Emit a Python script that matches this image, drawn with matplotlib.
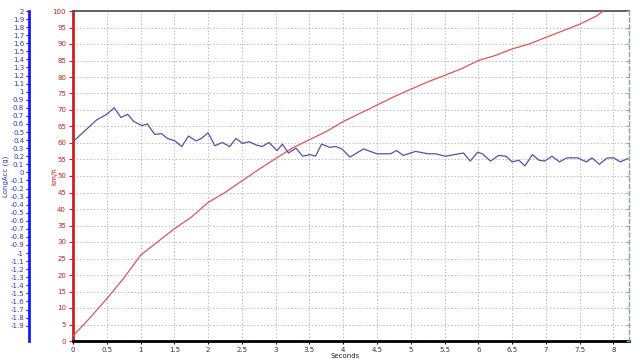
import numpy as np
import matplotlib.pyplot as plt
from matplotlib.ticker import MultipleLocator, FormatStrFormatter

# speed (km/h) vs time
speed_t = [0, 0.25, 0.5, 0.75, 1.0, 1.25, 1.5, 1.75, 2.0, 2.25, 2.5, 2.75, 3.0,
           3.25, 3.5, 3.75, 4.0, 4.25, 4.5, 4.75, 5.0, 5.25, 5.5, 5.75, 6.0,
           6.25, 6.5, 6.75, 7.0, 7.25, 7.5, 7.75, 7.85, 8.0, 8.22]
speed_v = [1.5, 7, 12.8, 19, 26, 30, 34, 37.5, 42, 45, 48.5, 52, 55.3,
           58.5, 61, 63.5, 66.5, 69, 71.5, 74, 76.3, 78.5, 80.5, 82.5, 85,
           86.5, 88.5, 90, 92, 94, 96, 98.5, 100, 101.5, 103]

# longitudinal acceleration (g) vs time
acc_t = [0, 0.35, 0.5, 0.61, 0.71, 0.81, 0.9, 1.02, 1.1, 1.21, 1.31, 1.4,
         1.51, 1.61, 1.71, 1.82, 1.9, 2.0, 2.1, 2.21, 2.32, 2.41, 2.51, 2.61,
         2.71, 2.8, 2.9, 3.02, 3.1, 3.19, 3.3, 3.4, 3.51, 3.59, 3.68, 3.8,
         3.89, 3.98, 4.1, 4.3, 4.5, 4.7, 4.79, 4.89, 5.07, 5.26, 5.37, 5.51,
         5.78, 5.88, 5.99, 6.06, 6.18, 6.3, 6.41, 6.5, 6.6, 6.69, 6.8, 6.9,
         6.98, 7.09, 7.2, 7.31, 7.47, 7.6, 7.68, 7.79, 7.91, 8.0, 8.1, 8.21]
acc_g = [0.38, 0.65, 0.72, 0.80, 0.68, 0.72, 0.63, 0.58, 0.60, 0.47, 0.48, 0.42,
         0.39, 0.32, 0.45, 0.39, 0.42, 0.49, 0.33, 0.37, 0.32, 0.42, 0.36, 0.38,
         0.34, 0.32, 0.37, 0.27, 0.35, 0.24, 0.30, 0.20, 0.22, 0.20, 0.35, 0.31,
         0.32, 0.29, 0.19, 0.29, 0.23, 0.23, 0.27, 0.21, 0.26, 0.23, 0.23, 0.20,
         0.24, 0.14, 0.25, 0.23, 0.14, 0.21, 0.20, 0.13, 0.15, 0.08, 0.22, 0.15,
         0.14, 0.20, 0.13, 0.18, 0.18, 0.13, 0.18, 0.10, 0.18, 0.18, 0.13, 0.17]

red = '#cc2020'
blue = '#1a1aff'

fig = plt.figure(figsize=(6.4, 3.63), dpi=100)
ax = fig.add_axes([73/640, 22/363, 556/640, 330/363])

ax.plot(speed_t, speed_v, color='#d85858', lw=0.9, zorder=3)
ax.set_xlim(0, 8.23)
ax.set_ylim(0, 100)
ax.yaxis.set_major_locator(MultipleLocator(5))
ax.xaxis.set_major_locator(MultipleLocator(0.5))
ax.xaxis.set_minor_locator(MultipleLocator(0.1))
ax.xaxis.set_major_formatter(FormatStrFormatter('%g'))
ax.grid(True, color='#bcbcbc', ls=(0, (1.5, 2)), lw=0.7)
ax.set_axisbelow(True)
ax.tick_params(axis='y', colors=red, labelsize=5, length=3, width=0.8, pad=2)
ax.tick_params(axis='x', colors='black', labelcolor='#333333', labelsize=5,
               length=2.5, width=0.8, pad=2)
ax.tick_params(axis='x', which='minor', length=1, width=0.5)
ax.spines['left'].set_color(red)
ax.spines['left'].set_linewidth(2)
ax.spines['bottom'].set_color('black')
ax.spines['bottom'].set_linewidth(2)
ax.spines['top'].set_color('#555555')
ax.spines['top'].set_linewidth(1.3)
ax.spines['right'].set_visible(False)
ax.set_ylabel('km/h', color=red, fontsize=5)
ax.yaxis.set_label_coords(-16/556, 0.5)
fig.text(345/640, 1 - 356/363, 'Seconds', fontsize=5, color='#222222',
         ha='center', va='center')

# blue LongAcc axis, offset to the left
ax2 = ax.twinx()
ax2.plot(acc_t, acc_g, color='#5252a8', lw=0.9, zorder=4)
ax2.set_ylim(-2.09, 2.0)
ax2.yaxis.set_ticks_position('left')
ax2.yaxis.set_label_position('left')
ax2.spines['left'].set_position(('axes', -44/556))
ax2.spines['left'].set_visible(True)
ax2.spines['left'].set_color(blue)
ax2.spines['left'].set_linewidth(2)
for s in ['right', 'top', 'bottom']:
    ax2.spines[s].set_visible(False)
ax2.set_yticks(np.round(np.arange(-1.9, 2.01, 0.1), 1))
ax2.yaxis.set_major_formatter(FormatStrFormatter('%g'))
ax2.tick_params(axis='y', colors=blue, labelcolor='#3333cc', labelsize=5,
                length=2.5, width=0.8, pad=1)
ax2.set_ylabel('LongAcc (g)', color='#3333cc', fontsize=5)
ax2.yaxis.set_label_coords(-64/556, 0.5)

# dashed right axis
ax3 = ax.twinx()
ax3.set_ylim(0, 100)
for s in ['left', 'top', 'bottom']:
    ax3.spines[s].set_visible(False)
ax3.spines['right'].set_color('#8aa88a')
ax3.spines['right'].set_linestyle((0, (3, 2)))
ax3.spines['right'].set_linewidth(1)
ax3.yaxis.set_major_locator(MultipleLocator(5))
ax3.tick_params(axis='y', colors='#9aaa9a', labelright=False, length=2,
                direction='in')

fig.savefig('out.png', dpi=100)
